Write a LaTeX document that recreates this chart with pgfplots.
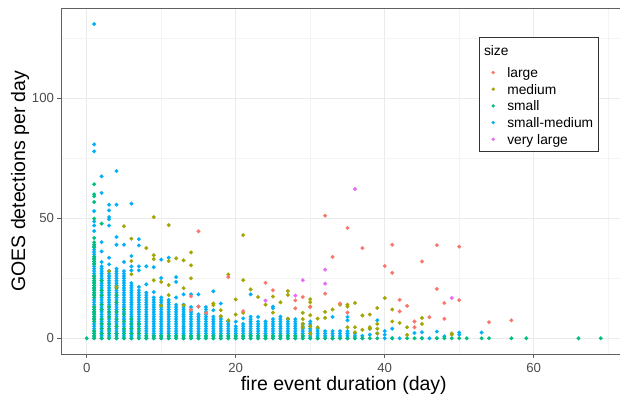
\documentclass[border=0pt]{standalone}
\usepackage{fontspec}
\setmainfont{Liberation Sans}
\usepackage{pgfplots}
\pgfplotsset{compat=1.18}
\definecolor{cLarge}{HTML}{F8766D}
\definecolor{cMedium}{HTML}{A3A500}
\definecolor{cSmall}{HTML}{00BF7D}
\definecolor{cSM}{HTML}{00B0F6}
\definecolor{cVL}{HTML}{E76BF3}
\definecolor{gridmaj}{HTML}{EBEBEB}
\definecolor{gridmin}{HTML}{F4F4F4}
\definecolor{ticklab}{HTML}{4D4D4D}
\definecolor{border}{HTML}{606060}
\pgfplotsset{pts/.style={only marks, mark=*, color=#1, mark size=1.9bp, mark options={line width=0.2bp, draw=#1, fill=#1}, forget plot},
  legpts/.style={only marks, mark=*, color=#1, mark size=1.6bp, mark options={line width=0.2bp, draw=#1, fill=#1}}}
\begin{document}
\begin{tikzpicture}
\begin{axis}[
 at={(61bp,42bp)}, anchor=south west,
 scale only axis, width=565.5bp, height=345.7bp,
 xmin=-3.45, xmax=72.45, ymin=-6.55, ymax=137.55,
 xtick={0,20,40,60}, ytick={0,50,100},
 minor xtick={10,30,50,70}, minor ytick={25,75,125},
 grid=both,
 major grid style={draw=gridmaj, line width=0.9bp},
 minor grid style={draw=gridmin, line width=0.6bp},
 axis line style={draw=border, line width=0.9bp},
 tick align=outside, xtick pos=bottom, ytick pos=left,
 major tick length=3.5bp, minor tick length=0pt,
 tick style={draw=border, line width=0.9bp},
 /pgf/number format/assume math mode=true,
 ticklabel style={font=\fontsize{13.2bp}{15bp}\selectfont, text=ticklab},
 xticklabel style={yshift=-2.5bp},
 xlabel={fire event duration (day)},
 ylabel={GOES detections per day},
 xlabel style={at={([yshift=-36bp]axis description cs:0.5,0)}, anchor=base, font=\fontsize{19.5bp}{22bp}\selectfont},
 ylabel style={at={([xshift=-36bp]axis description cs:0,0.5)}, anchor=base, font=\fontsize{19.5bp}{22bp}\selectfont},
 legend style={at={(axis description cs:0.7397,0.9161)}, anchor=north west, draw=black!80, line width=0.8bp, fill=white,
   inner xsep=5bp, inner ysep=6bp, font=\fontsize{13.8bp}{15bp}\selectfont, column sep=12.5bp, row sep=3.7bp,
   nodes={inner sep=0pt, text height=11.5bp, text depth=1.5bp}},
 legend cell align=left,
]
% small-medium
\addplot[pts=cSM] coordinates {
(1,0)(1,1)(1,2)(1,3)(1,4)(1,5)(1,6)(1,7)(1,8)(1,9)(1,10)(1,11)(1,12)(1,13)(1,14)(1,15)(1,16)(1,17)(1,18)(1,19)(1,20)(1,21)(1,22)(1,23)(1,24)(1,25)(1,26)(1,27)(1,28)(1,29)(1,30)(1,31)(1,32)(1,33)(1,34)(1,35)(1,36)(1,37)(1,38)(1,39)(1,44.7)(1,47)(1,48.7)(1,53)(1,77.9)(1,80.8)(1,131)
(2,0)(2,1)(2,2)(2,3)(2,4)(2,5)(2,6)(2,7)(2,8)(2,9)(2,10)(2,11)(2,12)(2,13)(2,14)(2,15)(2,16)(2,17)(2,18)(2,19)(2,20)(2,21)(2,22)(2,23)(2,24)(2,25)(2,26)(2,27)(2,28)(2,29)(2,30)(2,31.8)(2,36.2)(2,40.1)(2,60.6)(2,67.5)
(3,0)(3,1)(3,2)(3,3)(3,4)(3,5)(3,6)(3,7)(3,8)(3,9)(3,10)(3,11)(3,12)(3,13)(3,14)(3,15)(3,16)(3,17)(3,18)(3,19)(3,20)(3,21)(3,22)(3,23)(3,24)(3,25)(3,26)(3,27)(3,28)(3,30.8)(3,33.6)(3,47)(3,49.6)(3,50.5)(3,53.3)(3,55.7)
(4,0)(4,1)(4,2)(4,3)(4,4)(4,5)(4,6)(4,7)(4,8)(4,9)(4,10)(4,11)(4,12)(4,13)(4,14)(4,15)(4,16)(4,17)(4,18)(4,19)(4,20)(4,21)(4,22)(4,23)(4,24)(4,25)(4,26)(4,27)(4,28)(4,29)(4,39)(4,42.2)(4,55.7)(4,69.7)
(5,0)(5,1)(5,2)(5,3)(5,4)(5,5)(5,6)(5,7)(5,8)(5,9)(5,10)(5,11)(5,12)(5,13)(5,14)(5,15)(5,16)(5,17)(5,18)(5,19)(5,20)(5,21)(5,22)(5,23)(5,24)(5,25)(5,26)(5,27)(5,28)(5,31.8)(5,39)
(6,0)(6,1)(6,2)(6,3)(6,4)(6,5)(6,6)(6,7)(6,8)(6,9)(6,10)(6,11)(6,12)(6,13)(6,14)(6,15)(6,16)(6,17)(6,18)(6,19)(6,20)(6,21)(6,22)(6,23)(6,28.3)(6,30)(6,34.3)(6,56.1)
(7,0)(7,1)(7,2)(7,3)(7,4)(7,5)(7,6)(7,7)(7,8)(7,9)(7,10)(7,11)(7,12)(7,13)(7,14)(7,15)(7,16)(7,17)(7,18)(7,19)(7,20)(7,21.4)(7,28.3)(7,30)(7,38.7)(7,41.3)
(8,0)(8,1)(8,2)(8,3)(8,4)(8,5)(8,6)(8,7)(8,8)(8,9)(8,10)(8,11)(8,12)(8,13)(8,14)(8,15)(8,16)(8,17)(8,18)(8,19)(8,22.5)(8,30)
(9,0)(9,1)(9,2)(9,3)(9,4)(9,5)(9,6)(9,7)(9,8)(9,9)(9,10)(9,11)(9,12)(9,13)(9,14)(9,15)(9,16)(9,17)(9,19.3)(9,29.6)
(10,0)(10,1)(10,2)(10,3)(10,4)(10,5)(10,6)(10,7)(10,8)(10,9)(10,10)(10,11)(10,12)(10,13)(10,14)(10,15)(10,16)(10,17)(10,25.1)(10,32.8)
(11,0)(11,1)(11,2)(11,3)(11,4)(11,5)(11,6)(11,7)(11,8)(11,9)(11,10)(11,11)(11,12)(11,13)(11,14)(11,15)(11,16)(11,33.6)
(12,0)(12,1)(12,2)(12,3)(12,4)(12,5)(12,6)(12,7)(12,8)(12,9)(12,10)(12,11)(12,12)(12,13)(12,14)(12,17)(12,23.5)(12,25.5)
(13,0)(13,1)(13,2)(13,3)(13,4)(13,5)(13,6)(13,7)(13,8)(13,9)(13,10)(13,11)(13,12)(13,13)(13,14)(13,18.3)
(14,0)(14,1)(14,2)(14,3)(14,4)(14,5)(14,6)(14,7)(14,8)(14,9)(14,10)(14,11)(14,12)(14,13)(14,18.3)
(15,0)(15,1)(15,2)(15,3)(15,4)(15,5)(15,6)(15,7)(15,8)(15,9)(15,10)(15,13.2)(15,18.3)
(16,0)(16,1)(16,2)(16,3)(16,4)(16,5)(16,6)(16,7)(16,8)(16,9)(16,10)(16,11)(16,12)(16,13)
(17,0)(17,1)(17,2)(17,3)(17,4)(17,5)(17,6)(17,7)(17,8)(17,9)(17,11.7)(17,19.6)
(18,0)(18,1)(18,2)(18,3)(18,4)(18,5)(18,6)(18,7)(18,8)(18,9)(18,14.5)
(19,0)(19,1)(19,2)(19,3)(19,4)(19,5)(19,6)(19,7)
(20,0)(20,1)(20,2)(20,3)(20,4)(20,5)(20,6.9)
(21,0)(21,1)(21,2)(21,3)(21,4)(21,5)(21,6)(21,8.3)
(22,0)(22,1)(22,2)(22,3)(22,4)(22,5)(22,6)(22,7)(22,8)(22,9)(22,18.3)
(23,0)(23,1)(23,2)(23,3)(23,4)(23,5)(23,6)(23,7)(23,8.9)
(24,0)(24,1)(24,2)(24,3)(24,4)(24,5)(24,6)(24,7)
(25,0)(25,1)(25,2)(25,3)(25,4)(25,5)(25,6)(25,7)(25,8)(25,12.5)(25,13.2)
(26,0)(26,1)(26,2)(26,3)(26,4)(26,5)(26,6)(26,7)(26,8)(26,9)
(27,0)(27,1)(27,2)(27,3)(27,4)(27,5)(27,6)(27,7)(27,8)
(28,0)(28,1)(28,2)(28,3)(28,4)(28,5)(28,6)(28,7)(28,8)
(29,0)(29,1)(29,2)(29,3)(29,4)(29,5)(29,6)
(30,0)(30,1)(30,2)(30,3)(30,4)(30,5)(30,6)(30,7)
(31,0)(31,1)(31,2)(31,3)(31,4)
(32,0)(32,1)(32,2)(32,3)
(33,0)(33,1)(33,2)(33,3)(33,8.9)
(34,0)(34,1)(34,2)(34,3)
(35,0)(35,1)(35,2)(35,3)(35,7.5)(35,8.9)
(36,0)(36,1)(36,2)
(37,0)(37,1)
(38,1.5)(38,4)(39,2)(39,7.5)(40,0)(40,1.5)(40,3)(41,0)(41,4)(42,0)(44,2.2)(45,0)(45,2.5)(46,0)(47,0)(47,2.8)(48,0.8)(50,1.5)(50,2.4)(53,2.4)
};
% small
\addplot[pts=cSmall] coordinates {
(0,0)
(1,0)(1,1)(1,2)(1,3)(1,7)(1,8)(1,9)(1,10)(1,11)(1,12)(1,13)(1,17)(1,18)(1,19)(1,20)(1,21)(1,22)(1,23)(1,24)(1,25)(1,26)(1,31)(1,32)(1,33)(1,34)(1,38)(1,39)(1,40)(1,41.8)(1,49.9)(1,56.8)(1,59.2)(1,60)(1,64.2)
(2,0)(2,2)(2,4)(2,6)(2,8)(2,12)(2,14)(2,18)(2,20)(2,24)(2,47.8)
(3,0)(3,2)(3,4)(3,6)(3,9)(3,11)(3,13)
(4,0)(4,2)(4,5)(4,8)(4,11)(4,15)(4,18)(4,21)
(5,0)(5,2)(5,4)(5,7)(5,10)(5,12)
(6,0)(6,2)(6,4)(6,6)(6,8)
(7,0)(7,2)(7,4)(7,6)
(8,0)(8,1)(9,0)(9,1)(10,0)(10,1)(11,0)(11,1)(12,0)(12,1)(13,0)(13,1)(14,0)(14,1)(15,0)(15,1)(16,0)(16,1)(17,0)(17,1)(18,0)(18,1)(19,0)(19,1)
(20,0)(20,1)(21,0)(21,1)(22,0)(22,1)(23,0)(23,1)(24,0)(24,1)(25,0)(25,1)(26,0)(26,1)(27,0)(27,1)(28,0)(28,1)(29,0)(29,1)
(30,0)(31,0)(32,0)(33,0)(34,0)(35,0)(36,0)(37,0)(38,0)(39,0)(41,0)(43,0)(44,0)(45,0)(47,0)(48,0)(49,0)(50,0)(51,0)
(53,0)(54,0)(57,0)(59,0)(66,0)(69,0)
};
% medium
\addplot[pts=cMedium] coordinates {
(3,28)(4,21.4)(5,46.7)(6,41.5)(6,32.2)(6,26.7)(8,37.6)(9,50.5)(9,34.6)(9,33)(9,24.2)(10,23.5)(10,13.6)
(11,47.2)(11,32.2)(11,22.2)(11,18)(12,33.3)(13,32.5)(13,20.9)(13,13.8)(14,35.8)(14,30.4)(14,25)
(17,14.5)(17,13.8)(18,11.7)(18,9.2)(19,26.6)(19,7.5)(20,16.2)(20,9.9)(21,43)(21,24.2)(21,10.6)
(22,20.4)(23,17.2)(24,14)(25,17.4)(25,10.7)(26,15)(27,19.7)(27,18.1)(27,8.2)
(29,10.6)(29,8)(29,6)(29,4.6)(30,16.3)(30,15)(30,13.2)(30,9.6)(30,5)(30,2)(31,8.2)(31,4.6)
(32,11)(32,8.5)(33,12)(34,14)(35,14)(35,13.2)(35,4.6)(36,14.7)(36,4.6)(36,2.5)(37,9.5)(37,3.5)
(38,9.9)(38,4.6)(38,4)(39,12.6)(39,6)(39,4)(39,2)(40,16.8)(41,12)(41,7)(42,6.4)(43,4.6)(43,1.4)
(45,8.5)(45,6)(49,1.5)(49,2)
};
% large
\addplot[pts=cLarge] coordinates {
(14,17.5)(14,11.9)(15,44.6)(15,13.2)(16,10.6)(19,25.5)(21,11.3)(24,23.1)(25,20)(28,15.8)(28,12.5)
(29,17.2)(30,13)(32,51.1)(32,18.6)(33,33.9)(34,14.5)(35,46)(35,10.7)(37,37.6)(40,30.1)(41,39)(41,27.3)
(42,16)(42,11.2)(43,13.5)(44,7)(44,4.6)(45,32)(46,8.8)(47,38.8)(47,20.6)(48,14.7)(48,8.1)(50,38.2)(50,15.9)
(54,6.7)(57,7.5)
};
% very large
\addplot[pts=cVL] coordinates {
(24,15.7)(28,17.8)(29,24.2)(32,28.6)(32,22.8)(36,62.2)(49,16.8)
};
\addlegendimage{empty legend}
\addlegendentry[text depth=7.1bp]{\hspace*{-23.3bp}size}
\addlegendimage{legpts=cLarge}
\addlegendentry{large}
\addlegendimage{legpts=cMedium}
\addlegendentry{medium}
\addlegendimage{legpts=cSmall}
\addlegendentry{small}
\addlegendimage{legpts=cSM}
\addlegendentry{small-medium}
\addlegendimage{legpts=cVL}
\addlegendentry{very large}
\end{axis}
\pgfresetboundingbox
\useasboundingbox (0,0) rectangle (620bp,396bp);
\end{tikzpicture}
\end{document}
